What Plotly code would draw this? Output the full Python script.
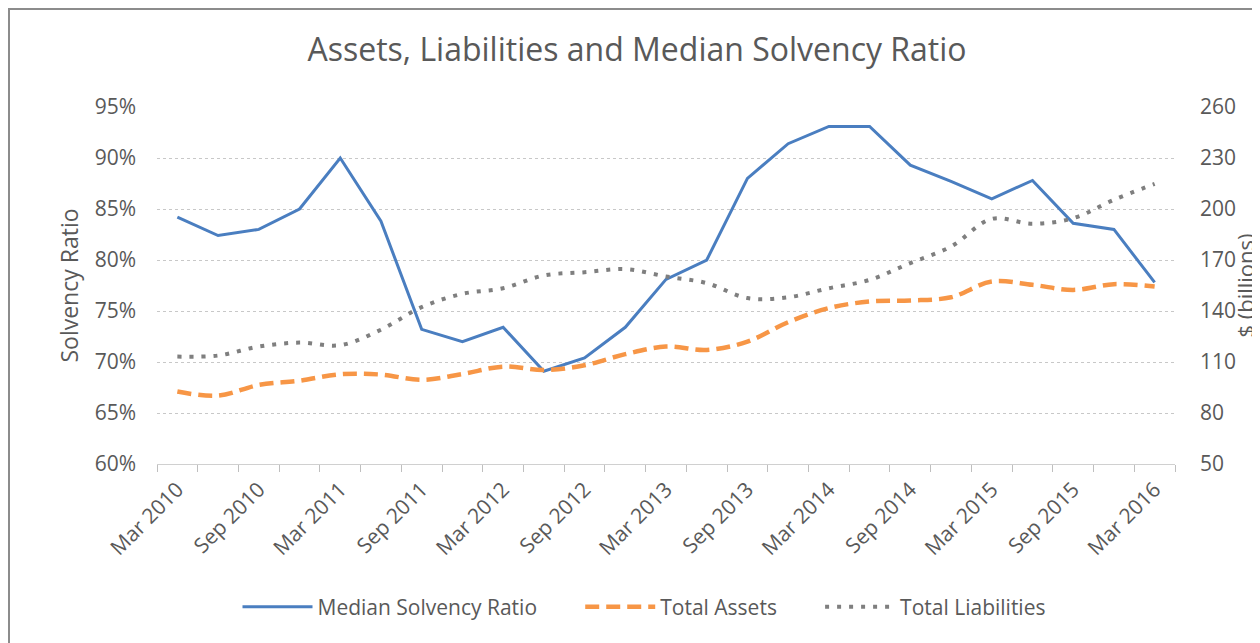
import plotly.graph_objects as go

quarters = ["Mar 2010", "Jun 2010", "Sep 2010", "Dec 2010", "Mar 2011", "Jun 2011", "Sep 2011",
            "Dec 2011", "Mar 2012", "Jun 2012", "Sep 2012", "Dec 2012", "Mar 2013", "Jun 2013",
            "Sep 2013", "Dec 2013", "Mar 2014", "Jun 2014", "Sep 2014", "Dec 2014", "Mar 2015",
            "Jun 2015", "Sep 2015", "Dec 2015", "Mar 2016"]
solvency_ratio = [84.2, 82.4, 83.0, 85.0, 90.0, 83.8, 73.2, 72.0, 73.4, 69.1, 70.4, 73.4, 78.1,
                  80.0, 88.0, 91.4, 93.1, 93.1, 89.3, 87.7, 86.0, 87.8, 83.6, 83.0, 77.8]
total_assets = [92.6, 90.2, 96.5, 99.0, 102.8, 102.6, 99.5, 102.9, 107.3, 105.3, 108.1, 114.6,
                119.1, 117.1, 122.0, 133.4, 141.7, 145.6, 146.2, 148.1, 157.3, 155.4, 152.4,
                155.8, 154.4]
total_liabilities = [113.2, 113.8, 119.1, 121.4, 119.9, 129.0, 142.3, 150.1, 153.4, 160.9, 162.8,
                     164.6, 160.3, 156.4, 147.6, 148.1, 153.4, 158.3, 168.2, 177.9, 194.2, 191.3,
                     194.6, 205.4, 214.8]
left_ticks = [60, 65, 70, 75, 80, 85, 90, 95]
right_ticks = [50, 80, 110, 140, 170, 200, 230, 260]

idx = list(range(len(quarters)))
label_idx = idx[::2]
label_text = [quarters[i] for i in label_idx]
boundaries = [i - 0.5 for i in range(len(quarters) + 1)]

FONT = "Open Sans"
GREY = "#595959"
OFF = 8  # page body margin
PAD = "\u00a0" * 7

fig = go.Figure()
fig.add_trace(go.Scatter(x=idx, y=solvency_ratio, name="Median Solvency Ratio" + PAD, mode="lines",
                         line=dict(color="#4A7EC0", width=3), yaxis="y"))
fig.add_trace(go.Scatter(x=idx, y=total_assets, name="Total Assets" + PAD, mode="lines",
                         line=dict(color="#F79646", width=4.5, dash="14px,7px", shape="spline"),
                         yaxis="y2"))
fig.add_trace(go.Scatter(x=idx, y=total_liabilities, name="Total Liabilities", mode="lines",
                         line=dict(color="#7F7F7F", width=4, dash="4px,8px", shape="spline"),
                         yaxis="y2"))

W, H = 1260 - OFF, 643 - OFF
L, T = 157 - OFF, 107 - OFF
pw, ph = 1018, 357
R, B = W - L - pw, H - T - ph

fig.update_layout(
    width=W, height=H,
    margin=dict(l=L, r=R, t=T, b=B, autoexpand=False),
    paper_bgcolor="white", plot_bgcolor="white",
    font=dict(family=FONT, color=GREY, size=21),
    title=dict(text="Assets, Liabilities and Median Solvency Ratio", x=(637 - OFF) / W,
               xanchor="center", y=1 - (50 - OFF) / H, yanchor="middle",
               font=dict(size=32, color=GREY, family=FONT)),
    showlegend=True,
    legend=dict(orientation="h", x=(644 - 157) / pw, xanchor="center", y=(464 - 607) / ph,
                yanchor="middle", font=dict(size=21, color=GREY), itemwidth=70,
                bgcolor="rgba(0,0,0,0)"),
    xaxis=dict(range=[-0.5, len(quarters) - 0.5], tickmode="array", tickvals=label_idx,
               ticktext=label_text, tickangle=-45, ticks="", showgrid=False, zeroline=False,
               showline=True, linecolor="#d0d0d0", linewidth=1, ticklabelstandoff=4,
               tickfont=dict(size=21, color=GREY), automargin=False,
               minor=dict(tickmode="array", tickvals=boundaries, ticks="outside", ticklen=7,
                          tickcolor="#bfbfbf", tickwidth=1, showgrid=False)),
    yaxis=dict(range=[60, 95], tickmode="array", tickvals=left_ticks,
               ticktext=[f"{v}%" for v in left_ticks], showgrid=True, gridcolor="#c8c8c8",
               griddash="dot", gridwidth=1, zeroline=False, showline=False, ticks="",
               tickfont=dict(size=21, color=GREY), ticklabelstandoff=20, automargin=False,
               title=dict(text="Solvency Ratio", font=dict(size=23, color=GREY), standoff=9)),
    yaxis2=dict(range=[50, 260], tickmode="array", tickvals=right_ticks,
                overlaying="y", side="right", showgrid=False, zeroline=False, showline=False,
                ticks="", tickfont=dict(size=21, color=GREY), ticklabelstandoff=24,
                automargin=False,
                title=dict(text="$ (billions)", font=dict(size=22, color=GREY), standoff=2)),
    shapes=[dict(type="rect", xref="paper", yref="paper",
                 x0=(1 - L) / pw, x1=1.3, y0=-0.8, y1=1 + (T - 1) / ph,
                 line=dict(color="#8c8c8c", width=2), fillcolor="rgba(0,0,0,0)", layer="below")],
)

fig.write_html("out.html")
